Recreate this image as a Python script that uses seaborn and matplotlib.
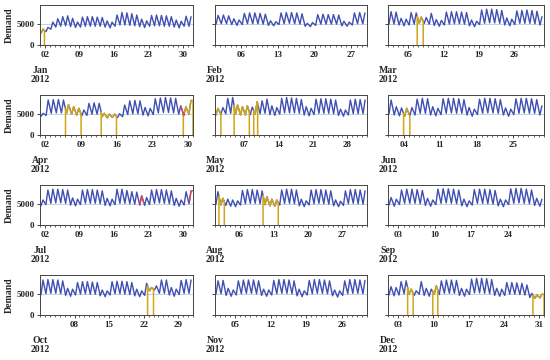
import numpy as np
import pandas as pd
import seaborn as sns
import matplotlib.pyplot as plt
import matplotlib.dates as mdates
from matplotlib.transforms import blended_transform_factory

months = ['Jan', 'Feb', 'Mar', 'Apr', 'May', 'Jun',
          'Jul', 'Aug', 'Sep', 'Oct', 'Nov', 'Dec']

# daily afternoon peaks and overnight troughs (hundreds of MW)
jan_peak = [38, 42, 55, 63, 68, 70, 64, 55, 67, 68, 68, 67, 66, 58, 55, 72,
            78, 77, 75, 72, 62, 58, 71, 72, 71, 70, 68, 60, 57, 69, 68]
jan_low = [28, 32, 38, 43, 45, 46, 44, 42, 43, 45, 45, 45, 45, 43, 41, 45,
           48, 48, 47, 46, 44, 42, 45, 46, 46, 45, 45, 43, 41, 45, 45]
feb_peak = [71, 72, 70, 63, 60, 76, 77, 77, 76, 74, 58, 56, 77, 78, 78, 77,
            75, 52, 54, 73, 74, 73, 73, 72, 57, 55, 77, 78, 77]
feb_low = [50, 51, 51, 49, 47, 49, 51, 51, 51, 50, 47, 46, 49, 51, 52, 51,
           50, 45, 44, 47, 50, 50, 50, 50, 46, 45, 48, 51, 51]
mar_peak = [80, 79, 64, 62, 78, 77, 67, 66, 76, 61, 59, 79, 80, 80, 79, 78,
            60, 57, 84, 86, 86, 85, 83, 65, 62, 82, 83, 84, 83, 81, 68]
mar_low = [50, 50, 48, 46, 48, 50, 52, 52, 50, 47, 45, 48, 50, 51, 51, 50,
           46, 44, 49, 52, 53, 53, 52, 48, 46, 49, 52, 52, 52, 51, 48]
apr_peak = [52, 84, 85, 85, 84, 73, 68, 64, 60, 76, 77, 76, 52, 50, 50, 51,
            72, 82, 83, 82, 66, 64, 87, 89, 90, 89, 88, 70, 68, 83]
apr_low = [45, 47, 52, 53, 53, 52, 50, 48, 46, 47, 50, 50, 44, 41, 42, 42,
           44, 49, 51, 51, 48, 46, 49, 53, 54, 54, 53, 50, 47, 50]
may_peak = [64, 66, 88, 90, 72, 68, 70, 67, 80, 82, 86, 70, 66, 88, 90, 89,
            88, 85, 68, 64, 86, 87, 87, 86, 84, 62, 60, 84, 86, 85, 84]
may_low = [48, 50, 51, 52, 50, 48, 48, 49, 50, 51, 52, 49, 47, 50, 53, 53,
           53, 52, 48, 46, 49, 52, 52, 52, 51, 47, 45, 48, 51, 51, 51]
jun_peak = [84, 68, 65, 64, 66, 86, 88, 87, 68, 64, 87, 88, 88, 87, 85, 66,
            62, 86, 88, 88, 87, 85, 65, 62, 87, 88, 88, 87, 85, 70]
jun_low = [51, 48, 46, 45, 46, 48, 52, 52, 48, 46, 49, 52, 53, 52, 52, 48,
           45, 49, 52, 53, 53, 52, 48, 45, 49, 52, 53, 52, 52, 48]
jul_peak = [60, 84, 86, 86, 85, 84, 65, 62, 84, 85, 85, 84, 82, 64, 62, 86,
            86, 83, 80, 79, 70, 66, 84, 85, 85, 84, 82, 64, 60, 80, 82]
jul_low = [46, 49, 52, 53, 53, 52, 48, 46, 49, 52, 52, 52, 51, 47, 46, 49,
           52, 52, 51, 50, 48, 47, 49, 52, 53, 52, 51, 47, 45, 48, 51]
aug_peak = [80, 64, 62, 60, 58, 83, 85, 85, 84, 82, 68, 62, 60, 84, 86, 86,
            84, 62, 58, 84, 85, 85, 84, 82, 60, 57, 82, 85, 85, 84, 82]
aug_low = [50, 48, 47, 45, 44, 48, 51, 52, 52, 51, 49, 46, 45, 48, 52, 52,
           51, 46, 44, 48, 51, 52, 51, 50, 46, 44, 47, 51, 52, 51, 50]
sep_peak = [66, 62, 84, 86, 86, 85, 83, 64, 60, 86, 87, 87, 86, 84, 62, 58,
            85, 86, 86, 85, 83, 62, 60, 87, 88, 88, 86, 84, 64, 62]
sep_low = [48, 45, 49, 52, 52, 52, 51, 47, 45, 49, 52, 53, 52, 51, 46, 44,
           48, 52, 52, 51, 50, 46, 44, 49, 52, 53, 52, 51, 47, 45]
oct_peak = [84, 85, 85, 84, 82, 64, 62, 78, 80, 80, 79, 78, 60, 58, 80, 81,
            81, 80, 78, 62, 58, 76, 66, 70, 84, 84, 66, 62, 83, 85, 84]
oct_low = [49, 51, 52, 52, 51, 47, 45, 48, 50, 51, 50, 50, 46, 44, 48, 51,
           51, 50, 49, 46, 44, 47, 58, 60, 52, 52, 48, 45, 49, 52, 52]
nov_peak = [82, 83, 64, 60, 82, 84, 84, 84, 82, 62, 60, 83, 85, 85, 84, 82,
            62, 58, 83, 85, 85, 84, 82, 60, 58, 82, 85, 85, 84, 83]
nov_low = [50, 51, 47, 45, 48, 51, 52, 52, 51, 47, 45, 48, 51, 52, 52, 51,
           46, 44, 48, 51, 52, 52, 51, 46, 43, 47, 51, 52, 52, 51]
dec_peak = [68, 66, 80, 82, 62, 58, 80, 64, 62, 70, 82, 84, 84, 83, 64, 62,
            86, 88, 88, 87, 85, 64, 62, 78, 78, 77, 76, 72, 52, 48, 50]
dec_low = [48, 46, 48, 51, 50, 47, 50, 47, 45, 50, 49, 52, 52, 52, 47, 45,
           49, 53, 53, 52, 51, 47, 45, 47, 50, 50, 49, 48, 42, 40, 41]

peaks = [jan_peak, feb_peak, mar_peak, apr_peak, may_peak, jun_peak,
         jul_peak, aug_peak, sep_peak, oct_peak, nov_peak, dec_peak]
lows = [jan_low, feb_low, mar_low, apr_low, may_low, jun_low,
        jul_low, aug_low, sep_low, oct_low, nov_low, dec_low]

# flagged (yellow) periods: month index, start day, end day (fractional)
flag_month = [0, 2, 3, 3, 3, 4, 4, 4, 5, 7, 7, 9, 11, 11, 11]
flag_start = [1.0, 6.8, 6.0, 13.0, 29.1, 1.0, 4.9, 8.9, 4.0, 1.8, 10.8,
              22.8, 4.9, 9.9, 29.8]
flag_end = [1.9, 8.0, 9.05, 16.0, 31.0, 2.2, 8.0, 9.7, 5.2, 2.9, 13.9,
            24.0, 6.0, 10.9, 32.0]

# short red stretches
red_month = [3, 6, 6]
red_start = [28.6, 21.2, 31.3]
red_end = [29.3, 22.0, 32.0]

BLUE = '#3f4fb2'
YELLOW = '#cfa61a'
RED = '#e0405a'


def month_frame(m):
    start = pd.Timestamp(2012, m + 1, 1)
    rows = []
    for d, (lo, hi) in enumerate(zip(lows[m], peaks[m])):
        rows.append((start + pd.Timedelta(days=d + 0.2), lo * 100))
        rows.append((start + pd.Timedelta(days=d + 0.6), hi * 100))
    return pd.DataFrame(rows, columns=['time', 'demand'])


def segment(df, m, s, e, drop=True):
    start = pd.Timestamp(2012, m + 1, 1)
    t0 = start + pd.Timedelta(days=s - 1)
    t1 = start + pd.Timedelta(days=e - 1)
    num = mdates.date2num(df.time.values)
    a, b = mdates.date2num(t0), mdates.date2num(t1)
    inside = df[(num > a) & (num < b)]
    va = np.interp(a, num, df.demand)
    vb = np.interp(b, num, df.demand)
    times = [t0] + list(inside.time) + [t1]
    vals = [va] + list(inside.demand) + [vb]
    if drop:
        times = [t0] + times + [t1]
        vals = [0] + vals + [0]
    return times, vals


sns.set_theme(style='white')
plt.rcParams['font.family'] = ['Liberation Serif', 'DejaVu Serif']
plt.rcParams['font.weight'] = 'bold'

fig = plt.figure(figsize=(5.5, 3.6), dpi=100)
W, H = 550, 360
col_left = [40, 215, 388]
col_width = [153, 152, 156]
row_top = [5, 95, 185, 275]
ax_h = 40

for m in range(12):
    r, c = divmod(m, 3)
    ax = fig.add_axes([col_left[c] / W, 1 - (row_top[r] + ax_h) / H,
                       col_width[c] / W, ax_h / H])
    df = month_frame(m)
    start = pd.Timestamp(2012, m + 1, 1)
    end = start + pd.offsets.MonthBegin(1)

    ax.axhline(5000, color='#b4cfdc', lw=0.6, zorder=0)
    sns.lineplot(data=df, x='time', y='demand', ax=ax, color=BLUE, lw=1.0,
                 estimator=None, sort=False)
    for fm, s, e in zip(flag_month, flag_start, flag_end):
        if fm == m:
            t, v = segment(df, m, s, e)
            sns.lineplot(x=t, y=v, ax=ax, color=YELLOW, lw=1.1,
                         estimator=None, sort=False)
    for rm, s, e in zip(red_month, red_start, red_end):
        if rm == m:
            t, v = segment(df, m, s, e, drop=False)
            sns.lineplot(x=t, y=v, ax=ax, color=RED, lw=1.0,
                         estimator=None, sort=False)
    if m == 0:
        ax.axhline(60, color=RED, lw=0.8, ls=':')

    ax.set_xlim(start, end)
    ax.set_ylim(0, 9600)
    mondays = [d for d in pd.date_range(start, end, freq='W-MON')
               if d.day > 1]
    ax.set_xticks(mondays)
    ax.xaxis.set_major_formatter(mdates.DateFormatter('%d'))
    ax.xaxis.set_minor_locator(mdates.DayLocator())
    ax.set_yticks([0, 5000])
    ax.tick_params(axis='both', which='major', length=2.5, width=0.6,
                   pad=1.5, labelsize=6.5, direction='out', bottom=True,
                   left=True)
    ax.tick_params(axis='x', which='minor', length=1.2, width=0.5,
                   bottom=True)
    for lab in ax.get_xticklabels() + ax.get_yticklabels():
        lab.set_fontweight('bold')
    ax.set_xlabel('')
    if c == 0:
        ax.set_ylabel('Demand', fontsize=7, fontweight='bold', labelpad=2)
    else:
        ax.set_ylabel('')
        ax.set_yticklabels([])
    for sp in ax.spines.values():
        sp.set_color('#444444')
        sp.set_linewidth(0.7)
    trans = blended_transform_factory(ax.transData, ax.transAxes)
    ax.text(start, -0.74, f'{months[m]}\n2012', transform=trans,
            ha='center', va='center', fontsize=7, fontweight='bold',
            linespacing=1.0)

fig.savefig('out.png', dpi=100)
